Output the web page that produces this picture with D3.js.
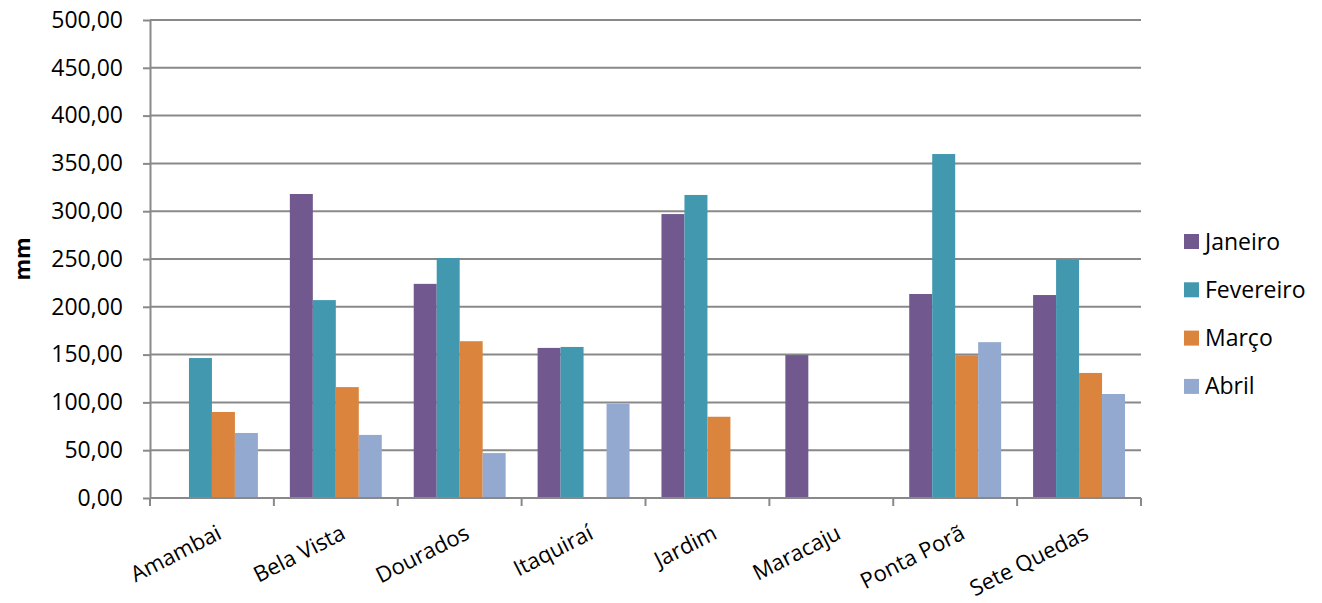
<!DOCTYPE html>
<html>
<head>
<meta charset="utf-8">
<script src="https://cdn.jsdelivr.net/npm/d3@7"></script>
<style>
  html, body { margin: 0; padding: 0; background: #fff; }
  svg { display: block; font-family: "Open Sans", sans-serif; }
</style>
</head>
<body>
<svg id="chart" width="1322" height="603"></svg>
<script>
// Monthly rainfall (mm) by municipality
const categories = ["Amambai", "Bela Vista", "Dourados", "Itaquiraí", "Jardim", "Maracaju", "Ponta Porã", "Sete Quedas"];
const seriesNames = ["Janeiro", "Fevereiro", "Março", "Abril"];
const janeiro   = [null, 318, 224, 157, 297, 149.5, 213.4, 212.3];
const fevereiro = [146.4, 207, 251, 158, 317, null, 359.8, 249.3];
const marco     = [90, 116, 164, null, 85, null, 149.3, 130.8];
const abril     = [68, 66, 47, 98.6, null, null, 163, 108.8];
const yTicks = [0, 50, 100, 150, 200, 250, 300, 350, 400, 450, 500];
const colors = ["#71588F", "#4198AF", "#DB843D", "#93A9CF"];

const seriesValues = [janeiro, fevereiro, marco, abril];

const svg = d3.select("#chart");
const plotLeft = 150, plotRight = 1141, plotTop = 20, plotBottom = 498;

const x0 = d3.scaleBand().domain(categories).range([plotLeft, plotRight]).paddingInner(0).paddingOuter(0);
const x1 = d3.scaleBand().domain(seriesNames).range([0, x0.bandwidth()]).paddingInner(0).paddingOuter(0.695);
const y = d3.scaleLinear().domain([0, 500]).range([plotBottom, plotTop]);
const color = d3.scaleOrdinal().domain(seriesNames).range(colors);

const fmt = v => d3.format(".2f")(v).replace(".", ",");

// horizontal gridlines
svg.append("g")
  .selectAll("line")
  .data(yTicks.filter(t => t > 0))
  .join("line")
  .attr("x1", plotLeft).attr("x2", plotRight)
  .attr("y1", d => y(d)).attr("y2", d => y(d))
  .attr("stroke", "#898989")
  .attr("stroke-width", 2);

// bars
const rows = [];
categories.forEach((c, i) => {
  seriesNames.forEach((s, j) => {
    const v = seriesValues[j][i];
    if (v != null) rows.push({ c, s, v });
  });
});
svg.append("g")
  .selectAll("rect")
  .data(rows)
  .join("rect")
  .attr("x", d => x0(d.c) + x1(d.s))
  .attr("width", x1.bandwidth())
  .attr("y", d => y(d.v))
  .attr("height", d => y(0) - y(d.v))
  .attr("fill", d => color(d.s));

// y axis
const yAxis = d3.axisLeft(y).tickValues(yTicks).tickFormat(fmt).tickSize(7).tickSizeOuter(0);
const gy = svg.append("g").attr("transform", `translate(${plotLeft},0)`).call(yAxis);
gy.select(".domain").attr("stroke", "#898989").attr("stroke-width", 2);
gy.selectAll(".tick line").attr("stroke", "#898989").attr("stroke-width", 2);
gy.selectAll(".tick text")
  .attr("x", -27)
  .attr("fill", "#000")
  .style("font-size", "23px")
  .style("font-family", "'Open Sans', sans-serif");

// x axis: baseline with ticks at category boundaries
const gx = svg.append("g");
gx.append("line")
  .attr("x1", plotLeft).attr("x2", plotRight)
  .attr("y1", plotBottom).attr("y2", plotBottom)
  .attr("stroke", "#898989").attr("stroke-width", 2);
const boundaries = categories.map(c => x0(c)).concat([x0(categories[categories.length - 1]) + x0.bandwidth()]);
gx.selectAll("line.tk")
  .data(boundaries)
  .join("line")
  .attr("class", "tk")
  .attr("x1", d => d).attr("x2", d => d)
  .attr("y1", plotBottom).attr("y2", plotBottom + 8)
  .attr("stroke", "#898989").attr("stroke-width", 2);
gx.selectAll("text")
  .data(categories)
  .join("text")
  .attr("transform", c => `translate(${x0(c) + x0.bandwidth() / 2 + 4},${plotBottom + 26}) rotate(-27)`)
  .attr("text-anchor", "end")
  .attr("dy", "0.71em")
  .attr("fill", "#000")
  .style("font-size", "22px")
  .text(c => c);

// y axis title
svg.append("text")
  .attr("transform", `translate(30,${(plotTop + plotBottom) / 2}) rotate(-90)`)
  .attr("text-anchor", "middle")
  .style("font-size", "22px")
  .style("font-weight", "bold")
  .attr("fill", "#000")
  .text("mm");

// legend
const legend = svg.append("g").attr("transform", "translate(1184,241.5)");
const items = legend.selectAll("g")
  .data(seriesNames)
  .join("g")
  .attr("transform", (d, i) => `translate(0,${i * 48.3})`);
items.append("rect")
  .attr("x", 0).attr("y", -7.5)
  .attr("width", 15).attr("height", 15)
  .attr("fill", d => color(d));
items.append("text")
  .attr("x", 21).attr("y", 0)
  .attr("dy", "0.35em")
  .attr("fill", "#000")
  .style("font-size", "23px")
  .text(d => d);
</script>
</body>
</html>
